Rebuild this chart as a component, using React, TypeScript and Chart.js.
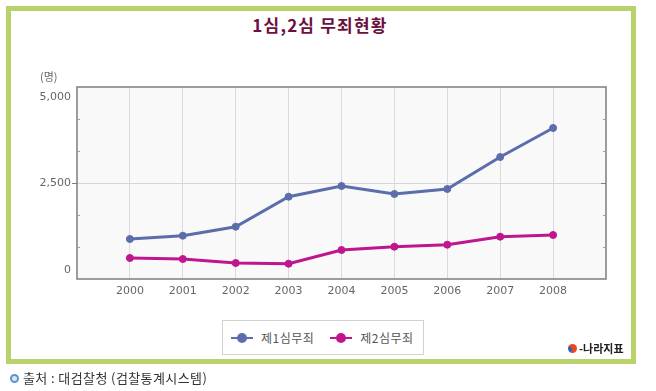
import React, { useEffect, useRef } from "react";
import { Chart, registerables } from "chart.js";

Chart.register(...registerables);

const years = [2000, 2001, 2002, 2003, 2004, 2005, 2006, 2007, 2008];
const firstInstanceAcquittals = [1042, 1128, 1362, 2143, 2422, 2214, 2344, 3177, 3932];
const secondInstanceAcquittals = [547, 521, 417, 398, 755, 841, 893, 1102, 1146];
const seriesNames = ["제1심무죄", "제2심무죄"];
const seriesColors = ["#5b6eab", "#bf168f"];
const yTickValues = [0, 2500, 5000];
const yMinorValues = [833, 1667, 3333, 4167];
const titleText = "1심,2심 무죄현황";
const unitText = "(명)";
const sourceText = "출처 : 대검찰청 (검찰통계시스템)";
const logoText = "-나라지표";

const KR = '"Noto Sans CJK KR", "Noto Sans", sans-serif';
const NUM = '"DejaVu Sans", sans-serif';

const plotDecor = {
  id: "plotDecor",
  beforeDraw(chart: any) {
    const { ctx, chartArea: a } = chart;
    ctx.save();
    ctx.fillStyle = "#f9f9f9";
    ctx.fillRect(a.left, a.top, a.right - a.left, a.bottom - a.top);
    ctx.restore();
  },
  beforeDatasetsDraw(chart: any) {
    const { ctx, chartArea: a } = chart;
    const y = chart.scales.y;
    ctx.save();
    ctx.strokeStyle = "#7d7d7d";
    ctx.lineWidth = 1.5;
    ctx.strokeRect(a.left, a.top, a.right - a.left, a.bottom - a.top);
    ctx.strokeStyle = "#a0a0a0";
    ctx.lineWidth = 1;
    yMinorValues.forEach((v) => {
      const py = Math.round(y.getPixelForValue(v)) + 0.5;
      ctx.beginPath();
      ctx.moveTo(a.left, py);
      ctx.lineTo(a.left + 3, py);
      ctx.moveTo(a.right - 3, py);
      ctx.lineTo(a.right, py);
      ctx.stroke();
    });
    const p = Math.round(y.getPixelForValue(2500)) + 0.5;
    ctx.strokeStyle = "#7d7d7d";
    ctx.beginPath();
    ctx.moveTo(a.left - 5, p);
    ctx.lineTo(a.left, p);
    ctx.moveTo(a.right, p);
    ctx.lineTo(a.right - 5, p);
    ctx.stroke();
    ctx.fillStyle = "#666";
    ctx.font = `11px ${NUM}`;
    ctx.textAlign = "right";
    ctx.textBaseline = "middle";
    yTickValues.forEach((v) => {
      let py = y.getPixelForValue(v);
      if (v === yTickValues[yTickValues.length - 1]) py += 10;
      else if (v === yTickValues[0]) py -= 9;
      ctx.fillText(v.toLocaleString("en-US"), a.left - 6, py);
    });
    ctx.restore();
  },
};

function ChartCanvas() {
  const ref = useRef<HTMLCanvasElement | null>(null);
  useEffect(() => {
    if (!ref.current) return;
    const chart = new Chart(ref.current, {
      type: "line",
      data: {
        datasets: [firstInstanceAcquittals, secondInstanceAcquittals].map((vals, i) => ({
          label: seriesNames[i],
          data: vals.map((v, j) => ({ x: years[j], y: v })),
          borderColor: seriesColors[i],
          backgroundColor: seriesColors[i],
          pointBackgroundColor: seriesColors[i],
          pointBorderColor: seriesColors[i],
          borderWidth: 3,
          pointRadius: 3.5,
          pointBorderWidth: 1,
          tension: 0,
        })),
      },
      options: {
        animation: false,
        responsive: false,
        maintainAspectRatio: false,
        layout: { padding: { top: 87, right: 50, bottom: 82, left: 0 } },
        plugins: {
          legend: { display: false },
          title: { display: false },
          tooltip: { enabled: false },
        },
        scales: {
          x: {
            type: "linear",
            min: years[0] - 1,
            max: years[years.length - 1] + 1,
            afterBuildTicks: (scale: any) => {
              const t = [{ value: years[0] - 1 }];
              years.forEach((yv) => t.push({ value: yv }));
              t.push({ value: years[years.length - 1] + 1 });
              scale.ticks = t;
            },
            afterFit: (scale: any) => {
              scale.height = 30;
            },
            border: { display: false },
            grid: {
              drawTicks: false,
              color: (c: any) => {
                const v = c.tick ? c.tick.value : 0;
                return v < years[0] || v > years[years.length - 1] ? "rgba(0,0,0,0)" : "#dadada";
              },
              lineWidth: 1,
            },
            ticks: {
              autoSkip: false,
              maxRotation: 0,
              padding: 6,
              color: "#666",
              font: { family: NUM, size: 11 },
              callback: (v: any) =>
                v >= years[0] && v <= years[years.length - 1] ? String(v) : "",
            },
          },
          y: {
            min: 0,
            max: 5000,
            afterBuildTicks: (scale: any) => {
              scale.ticks = yTickValues.map((v) => ({ value: v }));
            },
            afterFit: (scale: any) => {
              scale.width = 77;
            },
            border: { display: false },
            grid: {
              drawTicks: false,
              color: (c: any) =>
                c.tick && c.tick.value === 2500 ? "#d6d6d6" : "rgba(0,0,0,0)",
            },
            ticks: { display: false },
          },
        },
      },
      plugins: [plotDecor],
    } as any);
    return () => chart.destroy();
  }, []);
  return (
    <canvas
      ref={ref}
      width={656}
      height={391}
      style={{ position: "absolute", left: 0, top: 0, width: 656, height: 391, display: "block" }}
    />
  );
}

function LegendMarker({ color }: { color: string }) {
  return (
    <span style={{ position: "relative", display: "inline-block", width: 22, height: 12, marginRight: 8 }}>
      <span style={{ position: "absolute", left: 0, top: 5, width: 22, height: 2, background: color }} />
      <span
        style={{
          position: "absolute",
          left: 6,
          top: 1,
          width: 10,
          height: 10,
          borderRadius: "50%",
          background: color,
        }}
      />
    </span>
  );
}

export default function App() {
  return (
    <div
      style={{
        position: "absolute",
        left: 0,
        top: 0,
        width: 656,
        height: 391,
        background: "#fff",
        overflow: "hidden",
        fontFamily: KR,
      }}
    >
      <div
        style={{
          position: "absolute",
          left: 6,
          top: 6,
          width: 620,
          height: 348,
          border: "5px solid #b9d36c",
          background: "#fff",
        }}
      />
      <div
        style={{
          position: "absolute",
          left: 0,
          top: 14,
          width: 640,
          textAlign: "center",
          fontSize: 17,
          fontWeight: 700,
          letterSpacing: 1.2,
          color: "#6b1040",
          lineHeight: "22px",
        }}
      >
        {titleText}
      </div>
      <ChartCanvas />
      <div
        style={{
          position: "absolute",
          left: 40,
          top: 68,
          fontSize: 11,
          color: "#666",
          lineHeight: "16px",
        }}
      >
        {unitText}
      </div>
      <div
        style={{
          position: "absolute",
          left: 222,
          top: 320,
          width: 202,
          height: 35,
          border: "1px solid #d2d2d2",
          background: "#fff",
          display: "flex",
          alignItems: "center",
          paddingLeft: 8,
          boxSizing: "border-box",
          fontSize: 12,
          letterSpacing: 0.5,
          color: "#555",
        }}
      >
        {seriesNames.map((n, i) => (
          <span key={n} style={{ display: "inline-flex", alignItems: "center", marginRight: i === 0 ? 16 : 0 }}>
            <LegendMarker color={seriesColors[i]} />
            <span>{n}</span>
          </span>
        ))}
      </div>
      <div
        style={{
          position: "absolute",
          left: 568,
          top: 340,
          display: "flex",
          alignItems: "center",
          fontSize: 11,
          fontWeight: 700,
          color: "#222",
          lineHeight: "16px",
        }}
      >
        <span
          style={{
            display: "inline-block",
            width: 9,
            height: 9,
            borderRadius: "50%",
            background: "conic-gradient(#e8491d 0deg 200deg, #2a63b8 200deg 300deg, #e8491d 300deg 360deg)",
            marginRight: 2,
          }}
        />
        {logoText}
      </div>
      <div
        style={{
          position: "absolute",
          left: 10,
          top: 370,
          display: "flex",
          alignItems: "center",
          fontSize: 13,
          letterSpacing: 0.4,
          color: "#333",
          lineHeight: "16px",
        }}
      >
        <span
          style={{
            display: "inline-block",
            width: 5,
            height: 5,
            borderRadius: "50%",
            border: "2px solid #5d95c9",
            background: "#dbe9f6",
            marginRight: 4,
          }}
        />
        {sourceText}
      </div>
    </div>
  );
}
